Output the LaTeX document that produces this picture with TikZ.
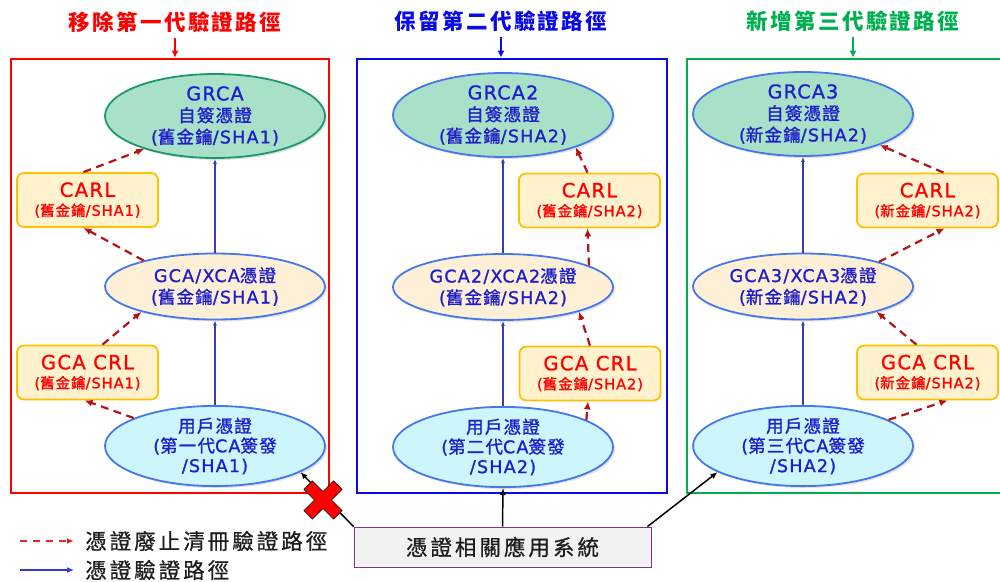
\documentclass[tikz,border=0pt]{standalone}
\usepackage{fontspec}
\setmainfont{Noto Sans CJK TC}
\newfontfamily\ltn{DejaVu Sans}[LetterSpace=7, FakeBold=1.1]
\newfontfamily\cjkn{Noto Sans CJK TC}[LetterSpace=7, FakeBold=1.3]
\newfontfamily\legf{Noto Sans CJK TC}[LetterSpace=14, FakeBold=0.8]
\usetikzlibrary{shapes.geometric,arrows.meta,shadows}
\definecolor{tred}{RGB}{255,0,0}
\definecolor{tblue}{RGB}{10,10,230}
\definecolor{tgreen}{RGB}{0,176,80}
\definecolor{ellblue}{RGB}{70,120,235}
\definecolor{grcafill}{RGB}{168,224,200}
\definecolor{grcaedge}{RGB}{30,150,110}
\definecolor{gcafill}{RGB}{253,240,214}
\definecolor{userfill}{RGB}{204,246,252}
\definecolor{boxfill}{RGB}{255,242,204}
\definecolor{boxedge}{RGB}{255,192,0}
\definecolor{ntext}{RGB}{30,30,205}
\definecolor{dred}{RGB}{180,20,20}
\definecolor{vblue}{RGB}{60,60,175}
\definecolor{sysfill}{RGB}{242,242,242}
\definecolor{sysedge}{RGB}{128,50,140}
\definecolor{legred}{RGB}{225,40,40}
\definecolor{legblue}{RGB}{55,55,210}
\definecolor{txt}{RGB}{30,30,30}
\newcommand\boxhead[1]{{\fontsize{19.5}{22}\selectfont\ltn #1}}
\newcommand\grcahead[1]{{\fontsize{19}{21.5}\selectfont\ltn #1}}
\begin{document}
\begin{tikzpicture}[x=1pt,y=-1pt,
  ell/.style={ellipse, draw=ellblue, line width=1.8pt, minimum width=220pt,
    inner sep=0pt, align=center, text=ntext,
    font=\fontsize{17.5}{21.5}\selectfont\cjkn,
    drop shadow={opacity=0.22,shadow xshift=2pt,shadow yshift=-2pt}},
  grca/.style={ell, fill=grcafill, minimum height=76pt},
  gca/.style={ell, fill=gcafill, minimum height=66pt},
  usr/.style={ell, fill=userfill, minimum height=66pt,
    font=\fontsize{17.5}{19.8}\selectfont\cjkn},
  crlbox/.style={rectangle, rounded corners=7pt, draw=boxedge, fill=boxfill,
    line width=1.8pt, minimum width=141pt, minimum height=54pt, align=center,
    text=tred, inner sep=0pt,
    font=\fontsize{14.5}{19}\selectfont\cjkn},
  frame/.style={rectangle, line width=2.6pt, inner sep=0pt, minimum height=434pt},
  ttl/.style={font=\fontsize{21.5}{26}\selectfont\bfseries\addfontfeature{LetterSpace=11}},
  ttlarr/.style={line width=1.8pt, -{Latex[length=7pt,width=7pt]}, shorten <=2pt},
  rev/.style={dred, line width=2.2pt, dash pattern=on 8pt off 5.5pt, -{Latex[length=8pt,width=7pt]}},
  ver/.style={vblue, line width=1.8pt, -{Latex[length=5pt,width=4pt]}},
  sysarr/.style={black, line width=1.5pt, -{Latex[length=7pt,width=6pt]}},
  leg/.style={font=\fontsize{21.5}{26}\selectfont\legf, text=txt, anchor=west, inner sep=0pt}
]
\useasboundingbox (0,0) rectangle (1000,581);
\clip (0,0) rectangle (1000,581);

% frames
\node[frame, draw=tred, minimum width=318pt] (fr1) at (170,276) {};
\node[frame, draw=tblue, minimum width=310pt] (fr2) at (512,276) {};
\node[frame, draw=tgreen, minimum width=323pt] (fr3) at (848.5,276) {};

% titles
\node[ttl, text=tred] (t1) at (175,22) {移除第一代驗證路徑};
\node[ttl, text=tblue] (t2) at (501,21) {保留第二代驗證路徑};
\node[ttl, text=tgreen] (t3) at (853,21) {新增第三代驗證路徑};
\draw[ttlarr, tred] (t1.south) -- (t1.south |- fr1.north);
\draw[ttlarr, tblue] (t2.south) -- (t2.south |- fr2.north);
\draw[ttlarr, tgreen] (t3.south) -- (t3.south |- fr3.north);

% left column
\node[grca, draw=grcaedge] (grca1) at (215,116) {\grcahead{GRCA}\\自簽憑證\\{\ltn (}舊金鑰{\ltn /SHA1)}};
\node[crlbox] (carl1) at (87.5,200) {\boxhead{CARL}\\{\ltn (}舊金鑰{\ltn /SHA1)}};
\node[gca] (gca1) at (215,286.5) {{\ltn GCA/XCA}憑證\\{\ltn (}舊金鑰{\ltn /SHA1)}};
\node[crlbox] (crl1) at (87.5,372.5) {\boxhead{GCA CRL}\\{\ltn (}舊金鑰{\ltn /SHA1)}};
\node[usr] (usr1) at (215,446) {用戶憑證\\{\ltn (}第一代{\ltn CA}簽發\\{\ltn /SHA1)}};

% middle column
\node[grca] (grca2) at (503,115) {\grcahead{GRCA2}\\自簽憑證\\{\ltn (}舊金鑰{\ltn /SHA2)}};
\node[crlbox] (carl2) at (589.5,200.5) {\boxhead{CARL}\\{\ltn (}舊金鑰{\ltn /SHA2)}};
\node[gca] (gca2) at (503,287) {{\ltn GCA2/XCA2}憑證\\{\ltn (}舊金鑰{\ltn /SHA2)}};
\node[crlbox] (crl2) at (590,373.5) {\boxhead{GCA CRL}\\{\ltn (}舊金鑰{\ltn /SHA2)}};
\node[usr] (usr2) at (503,447) {用戶憑證\\{\ltn (}第二代{\ltn CA}簽發\\{\ltn /SHA2)}};

% right column
\node[grca] (grca3) at (803,114) {\grcahead{GRCA3}\\自簽憑證\\{\ltn (}新金鑰{\ltn /SHA2)}};
\node[crlbox] (carl3) at (927.5,200.5) {\boxhead{CARL}\\{\ltn (}新金鑰{\ltn /SHA2)}};
\node[gca] (gca3) at (803,286.5) {{\ltn GCA3/XCA3}憑證\\{\ltn (}新金鑰{\ltn /SHA2)}};
\node[crlbox] (crl3) at (927.5,372.5) {\boxhead{GCA CRL}\\{\ltn (}新金鑰{\ltn /SHA2)}};
\node[usr] (usr3) at (803,446) {用戶憑證\\{\ltn (}第三代{\ltn CA}簽發\\{\ltn /SHA2)}};

% verification paths
\draw[ver] (gca1.north) -- (grca1.south);
\draw[ver] (usr1.north) -- (gca1.south);
\draw[ver] (gca2.north) -- (grca2.south);
\draw[ver] (usr2.north) -- (gca2.south);
\draw[ver] (gca3.north) -- (grca3.south);
\draw[ver] (usr3.north) -- (gca3.south);

% revocation paths
\draw[rev] ([xshift=-4pt]carl1.north) -- (grca1.205);
\draw[rev] (gca1.160) -- ([xshift=-4pt]carl1.south);
\draw[rev] ([xshift=15pt]crl1.north) -- (gca1.199);
\draw[rev] (usr1.161) -- ([xshift=-3pt]crl1.south);

\draw[rev] ([xshift=-2pt]carl2.north) -- (grca2.336);
\draw[rev] (gca2.14) -- ([xshift=-2pt]carl2.south);
\draw[rev] (crl2.north) -- (gca2.342);
\draw[rev] (usr2.18) -- ([xshift=-2pt]crl2.south);

\draw[rev] ([xshift=16pt]carl3.north) -- (grca3.338);
\draw[rev] (gca3.18) -- ([xshift=17pt]carl3.south);
\draw[rev] ([xshift=-11pt]crl3.north) -- (gca3.341);
\draw[rev] (usr3.17) -- ([xshift=20pt]crl3.south);

% application system
\node[rectangle, draw=sysedge, fill=sysfill, line width=0.8pt, minimum width=297pt,
  minimum height=40pt, inner sep=0pt, text=txt,
  font=\fontsize{21.5}{26}\selectfont\legf] (sys) at (502.5,547) {憑證相關應用系統};
\draw[sysarr] (sys.north) -- (usr2.south);
\draw[sysarr] (sys.north west) -- (usr1.343);
\draw[sysarr] ([xshift=-4pt]sys.north east) -- (usr3.197);

% red cross
\begin{scope}[shift={(323,500)}, rotate=45]
  \filldraw[fill=red, draw=black, line width=0.6pt]
    (-6,-21) -- (6,-21) -- (6,-6) -- (21,-6) -- (21,6) -- (6,6) -- (6,21)
    -- (-6,21) -- (-6,6) -- (-21,6) -- (-21,-6) -- (-6,-6) -- cycle;
\end{scope}

% legend
\coordinate (l1a) at (20,541);
\coordinate (l1b) at (74,541);
\coordinate (l2a) at (20,570);
\coordinate (l2b) at (74,570);
\draw[legred, line width=1.6pt, dash pattern=on 7pt off 6pt, -{Latex[length=7pt,width=6pt]}] (l1a) -- (l1b);
\draw[legblue, line width=1.6pt, -{Latex[length=7pt,width=6pt]}] (l2a) -- (l2b);
\node[leg] (lt1) at (85,541) {憑證廢止清冊驗證路徑};
\node[leg] (lt2) at (85,570) {憑證驗證路徑};
\end{tikzpicture}
\end{document}
